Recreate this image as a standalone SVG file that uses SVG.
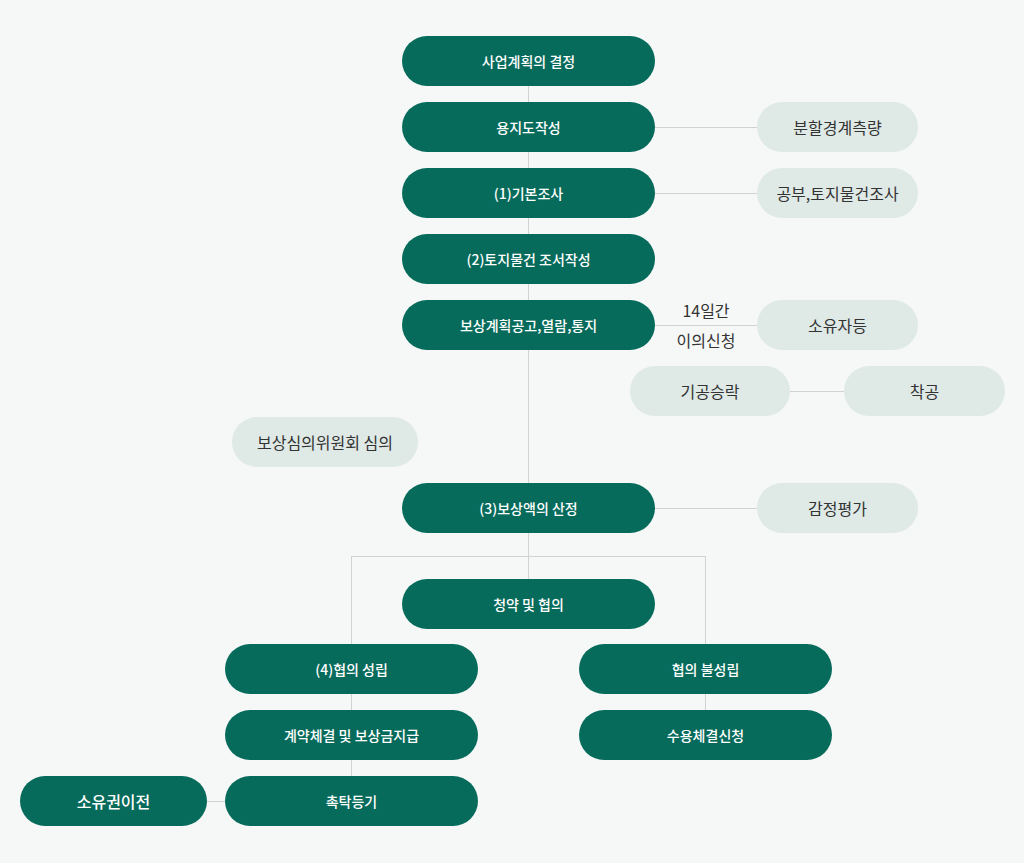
<svg xmlns="http://www.w3.org/2000/svg" width="1024" height="863" viewBox="0 0 1024 863">
<style>
.d rect{fill:#076b5c}
.d text{fill:#fff;font-size:14px;font-weight:500}
.l rect{fill:#dfe9e6}
.l text{fill:#333;font-size:16px}
text{font-family:"Noto Sans CJK KR","Noto Sans",sans-serif;text-anchor:middle;dominant-baseline:central}
.c line{stroke:#d2d2d2;stroke-width:1}
.lab{fill:#333;font-size:16px}
</style>
<rect width="1024" height="863" fill="#f5f8f7"/>
<g id="connectors" class="c">
<line x1="528.5" y1="61" x2="528.5" y2="604"/>
<line x1="655" y1="127.5" x2="757" y2="127.5"/>
<line x1="655" y1="193.5" x2="757" y2="193.5"/>
<line x1="655" y1="325.5" x2="757" y2="325.5"/>
<line x1="790" y1="391.5" x2="844" y2="391.5"/>
<line x1="655" y1="508.5" x2="757" y2="508.5"/>
<line x1="351.5" y1="556.5" x2="705.5" y2="556.5"/>
<line x1="351.5" y1="556" x2="351.5" y2="801"/>
<line x1="705.5" y1="556" x2="705.5" y2="735"/>
<line x1="207" y1="801.5" x2="225" y2="801.5"/>
</g>
<text class="lab" x="706" y="310">14일간</text>
<text class="lab" x="706" y="340">이의신청</text>
<g id="n1" class="d"><rect x="402" y="36" width="253" height="50" rx="25"/><text x="528.5" y="61">사업계획의 결정</text></g>
<g id="n2" class="d"><rect x="402" y="102" width="253" height="50" rx="25"/><text x="528.5" y="127">용지도작성</text></g>
<g id="n3" class="d"><rect x="402" y="168" width="253" height="50" rx="25"/><text x="528.5" y="193">(1)기본조사</text></g>
<g id="n4" class="d"><rect x="402" y="234" width="253" height="50" rx="25"/><text x="528.5" y="259">(2)토지물건 조서작성</text></g>
<g id="n5" class="d"><rect x="402" y="300" width="253" height="50" rx="25"/><text x="528.5" y="325">보상계획공고,열람,통지</text></g>
<g id="n6" class="d"><rect x="402" y="483" width="253" height="50" rx="25"/><text x="528.5" y="508">(3)보상액의 산정</text></g>
<g id="n7" class="d"><rect x="402" y="579" width="253" height="50" rx="25"/><text x="528.5" y="604">청약 및 협의</text></g>
<g id="n8" class="d"><rect x="225" y="644" width="253" height="50" rx="25"/><text x="351.5" y="669">(4)협의 성립</text></g>
<g id="n9" class="d"><rect x="225" y="710" width="253" height="50" rx="25"/><text x="351.5" y="735">계약체결 및 보상금지급</text></g>
<g id="n10" class="d"><rect x="225" y="776" width="253" height="50" rx="25"/><text x="351.5" y="801">촉탁등기</text></g>
<g id="n11" class="d"><rect x="20" y="776" width="187" height="50" rx="25"/><text x="113.5" y="801" style="font-size:16px">소유권이전</text></g>
<g id="n12" class="d"><rect x="579" y="644" width="253" height="50" rx="25"/><text x="705.5" y="669">협의 불성립</text></g>
<g id="n13" class="d"><rect x="579" y="710" width="253" height="50" rx="25"/><text x="705.5" y="735">수용체결신청</text></g>
<g id="s1" class="l"><rect x="757" y="102" width="161" height="50" rx="25"/><text x="837.5" y="127">분할경계측량</text></g>
<g id="s2" class="l"><rect x="757" y="168" width="161" height="50" rx="25"/><text x="837.5" y="193">공부,토지물건조사</text></g>
<g id="s3" class="l"><rect x="757" y="300" width="161" height="50" rx="25"/><text x="837.5" y="325">소유자등</text></g>
<g id="s4" class="l"><rect x="630" y="366" width="160" height="50" rx="25"/><text x="710" y="391">기공승락</text></g>
<g id="s5" class="l"><rect x="844" y="366" width="161" height="50" rx="25"/><text x="924.5" y="391">착공</text></g>
<g id="s6" class="l"><rect x="232" y="417" width="186" height="50" rx="25"/><text x="325" y="442">보상심의위원회 심의</text></g>
<g id="s7" class="l"><rect x="757" y="483" width="161" height="50" rx="25"/><text x="837.5" y="508">감정평가</text></g>
</svg>
